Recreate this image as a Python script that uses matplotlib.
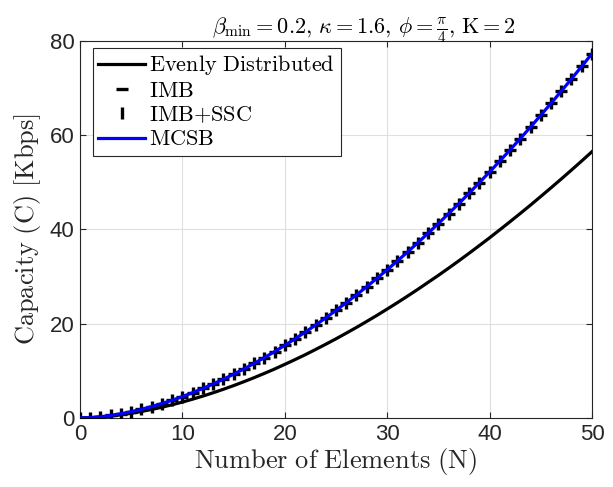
import numpy as np
import matplotlib
matplotlib.use("Agg")
import matplotlib.pyplot as plt

plt.rcParams['mathtext.fontset'] = 'cm'
plt.rcParams['font.family'] = ['Liberation Sans', 'DejaVu Sans']

N = list(range(0, 51))

evenly = [0.0, 0.060, 0.202, 0.411, 0.680, 1.005, 1.383, 1.811, 2.288, 2.811,
          3.380, 3.994, 4.651, 5.350, 6.092, 6.872, 7.696, 8.555, 9.459, 10.39,
          11.38, 12.39, 13.43, 14.53, 15.65, 16.80, 18.00, 19.22, 20.49, 21.78,
          23.12, 24.48, 25.88, 27.31, 28.79, 30.27, 31.80, 33.36, 34.96, 36.59,
          38.24, 39.94, 41.66, 43.41, 45.19, 47.01, 48.85, 50.72, 52.62, 54.55,
          56.51]

mcsb = [0.0, 0.079, 0.268, 0.547, 0.907, 1.344, 1.853, 2.430, 3.073, 3.781,
        4.551, 5.383, 6.273, 7.222, 8.23, 9.29, 10.41, 11.58, 12.81, 14.08,
        15.42, 16.80, 18.23, 19.72, 21.25, 22.83, 24.47, 26.13, 27.87, 29.64,
        31.47, 33.33, 35.25, 37.21, 39.23, 41.27, 43.37, 45.51, 47.70, 49.94,
        52.21, 54.53, 56.90, 59.30, 61.75, 64.25, 66.77, 69.35, 71.97, 74.62,
        77.31]

imb = list(mcsb)
imb_ssc = list(mcsb)

fig = plt.figure(figsize=(6.13, 4.87), dpi=100)
ax = fig.add_axes([0.1305, 0.1417, 0.8352, 0.7741])

ax.plot(N, evenly, color='black', lw=2.3, label='Evenly Distributed', zorder=3)
ax.plot(N, imb, linestyle='none', marker='_', color='black', ms=9, mew=2.4,
        label='IMB', zorder=4)
ax.plot(N, imb_ssc, linestyle='none', marker='|', color='black', ms=9, mew=2.4,
        label='IMB+SSC', zorder=4)
ax.plot(N, mcsb, color='#0000ff', lw=2.3, label='MCSB', zorder=5)

ax.set_xlim(0, 50)
ax.set_ylim(0, 80)
ax.set_xticks([0, 10, 20, 30, 40, 50])
ax.set_yticks([0, 20, 40, 60, 80])
ax.grid(True, color='#dfdfdf', lw=0.8)
ax.set_axisbelow(True)
ax.tick_params(direction='in', top=True, right=True, labelsize=16,
               colors='#262626', length=4, width=0.8, pad=4)
for s in ax.spines.values():
    s.set_color('#262626')
    s.set_linewidth(0.8)

ax.set_xlabel(r'$\mathrm{Number\ of\ Elements\ (N)}$', fontsize=19, color='#262626', labelpad=1)
ax.set_ylabel(r'$\mathrm{Capacity\ (C)\ [Kbps]}$', fontsize=19, color='#262626', labelpad=5)
ax.set_title(r'$\beta_{\min} = 0.2,\, \kappa = 1.6,\, \phi = \frac{\pi}{4},\, \mathrm{K{=}2}$',
             fontsize=16, color='black', pad=5, x=0.555)

labels = [r'$\mathrm{Evenly\ Distributed}$', r'$\mathrm{IMB}$', r'$\mathrm{IMB{+}SSC}$', r'$\mathrm{MCSB}$']
handles = ax.get_lines()
leg = ax.legend(handles, labels, loc='upper left', bbox_to_anchor=(0.025, 0.982),
                fontsize=16, fancybox=False, edgecolor='#262626', framealpha=1,
                handlelength=2.1, handletextpad=0.2, borderpad=0.25, labelspacing=0.15,
                borderaxespad=0)
leg.get_frame().set_linewidth(0.8)

fig.savefig('out.png', dpi=100)
